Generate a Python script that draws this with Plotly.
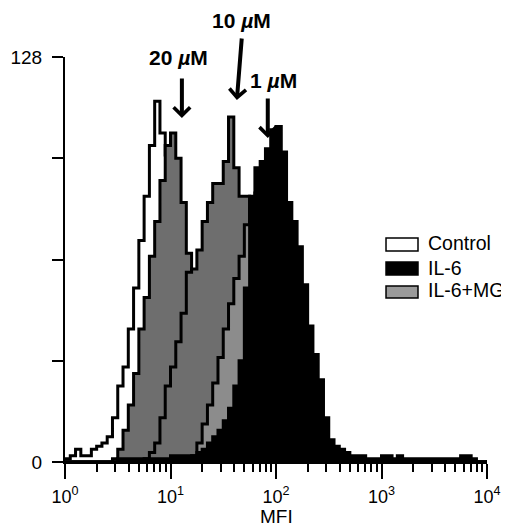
import numpy as np
import plotly.graph_objects as go

# Histogram channel layout: 4 log decades split into 80 channels
n_channels = 80
decades = 4
log_edges = np.linspace(0, decades, n_channels + 1)
edges = 10 ** log_edges

# Counts per channel
control = [1, 2, 4, 2, 2, 4, 5, 6, 8, 14,
           24, 30, 42, 55, 70, 84, 100, 114, 104, 97,
           85, 65, 45, 30, 18, 10, 5, 2, 1, 0] + [0] * 50

mg_20uM = [0, 0, 0, 0, 0, 0, 0, 0, 0, 1,
           4, 10, 18, 28, 42, 52, 65, 76, 89, 100,
           104, 96, 82, 66, 50, 38, 28, 18, 11, 6,
           3, 2, 1, 0, 0, 0, 0, 0, 0, 0] + [0] * 40

mg_10uM = [0] * 10 + \
          [0, 0, 0, 0, 0, 1, 3, 6, 14, 24,
           30, 38, 47, 60, 61, 67, 76, 82, 88, 88,
           95, 109, 93, 84, 84, 70, 55, 40, 28, 18,
           10, 5, 2, 1, 0, 0, 0, 0, 0, 0] + [0] * 30

mg_1uM = [0] * 20 + \
         [0, 0, 1, 1, 2, 6, 12, 18, 25, 33,
          42, 50, 58, 65, 75, 80, 85, 90, 92, 90,
          85, 75, 60, 45, 32, 22, 14, 8, 4, 2,
          1, 0, 0, 0, 0, 0, 0, 0, 0, 0] + [0] * 20

il6 = [0] * 10 + \
      [1, 1, 1, 1, 1, 1, 1, 1, 1, 1,
       2, 2, 2, 2, 2, 3, 4, 6, 8, 10,
       13, 17, 24, 32, 55, 84, 93, 95, 99, 105,
       106, 98, 82, 76, 68, 56, 43, 34, 26, 14,
       7, 5, 4, 3, 2, 2, 2, 1, 1, 1,
       2, 2, 1, 2, 1, 1, 1, 1, 1, 1,
       1, 1, 1, 1, 1, 2, 2, 1, 0, 0]

series = [
    ("Control", control, "white"),
    ("20 uM", mg_20uM, "#6e6e6e"),
    ("10 uM", mg_10uM, "#6e6e6e"),
    ("1 uM", mg_1uM, "#8c8c8c"),
    ("IL-6", il6, "black"),
]

legend_names = ["Control", "IL-6", "IL-6+MG"]
legend_fills = ["white", "black", "#9a9a9a"]

arrow_labels = ["20 <i>µ</i>M", "10 <i>µ</i>M", "1 <i>µ</i>M"]
x_title = "MFI"

FONT = "Liberation Sans, Arial, Helvetica, sans-serif"

fig = go.Figure()
for name, vals, fillc in series:
    fig.add_trace(go.Scatter(
        x=edges, y=list(vals) + [vals[-1]],
        mode="lines", line=dict(shape="hv", color="black", width=3),
        fill="tozeroy", fillcolor=fillc, name=name, showlegend=False,
        hoverinfo="skip"))

# x / y axes
fig.update_xaxes(
    type="log", range=[0, 4], showline=True, linecolor="black", linewidth=2,
    ticks="outside", ticklen=15, tickwidth=2, tickcolor="black",
    tickvals=[1, 10, 100, 1000, 10000],
    ticktext=["10<sup>0</sup>", "10<sup>1</sup>", "10<sup>2</sup>",
              "10<sup>3</sup>", "10<sup>4</sup>"],
    tickfont=dict(family=FONT, size=18, color="black"),
    ticklabelstandoff=2,
    minor=dict(ticks="outside", ticklen=8, tickwidth=1.5, tickcolor="black",
               dtick="D1", showgrid=False),
    showgrid=False, zeroline=False, automargin=False,
)
fig.update_yaxes(
    range=[0, 128], showline=True, linecolor="black", linewidth=2,
    ticks="outside", ticklen=11, tickwidth=2, tickcolor="black",
    tickvals=[0, 32, 64, 96, 128], ticktext=["0", "", "", "", "128"],
    tickfont=dict(family=FONT, size=19, color="black"),
    ticklabelstandoff=6, automargin=False,
    showgrid=False, zeroline=False,
)

# Axis title
fig.add_annotation(x=0.5, y=-0.134, xref="paper", yref="paper", text=x_title,
                   showarrow=False, xanchor="center", yanchor="middle",
                   font=dict(family=FONT, size=19, color="black"))

# Arrow annotations (head positions in data coords, log10 for x)
arrow_heads = [(1.108, 108.7, 0, -41), (1.629, 114.4, 5, -63), (1.922, 102.4, 0, -41)]
for hx, hy, ax, ay in arrow_heads:
    fig.add_annotation(x=hx, y=hy, xref="x", yref="y", ax=ax, ay=ay,
                       text="", showarrow=True, arrowhead=4, arrowwidth=4,
                       arrowsize=0.8, arrowcolor="black", standoff=0)

label_pos = [(1.08, 1.0), (1.676, 1.091), (1.979, 0.943)]
for (lx, ly), txt in zip(label_pos, arrow_labels):
    fig.add_annotation(x=lx, y=ly, xref="x", yref="paper", text="<b>" + txt + "</b>",
                       showarrow=False, xanchor="center", yanchor="middle",
                       font=dict(family=FONT, size=21, color="black"))

# Legend drawn as boxes and text
box_y = [(0.521, 0.553), (0.4617, 0.4938), (0.405, 0.4346)]
text_y = [0.5407, 0.479, 0.4247]
for (y0, y1), ty, nm, fc in zip(box_y, text_y, legend_names, legend_fills):
    fig.add_shape(type="rect", xref="paper", yref="paper", x0=0.7607, x1=0.8365,
                  y0=y0, y1=y1, line=dict(color="black", width=1.5), fillcolor=fc)
    fig.add_annotation(x=0.856, y=ty, xref="paper", yref="paper", text=nm,
                       showarrow=False, xanchor="left", yanchor="middle",
                       font=dict(family=FONT, size=19.5, color="black"))

# The page body has an 8px default margin, so the figure is 8px smaller
fig.update_layout(
    width=501, height=520,
    margin=dict(l=57, r=22, t=49, b=66),
    plot_bgcolor="white", paper_bgcolor="white",
    showlegend=False,
)

fig.write_html("out.html")
